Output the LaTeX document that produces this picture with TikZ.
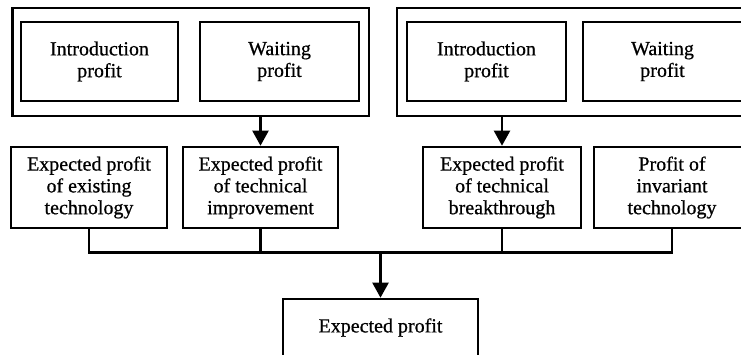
\documentclass[tikz,border=0pt]{standalone}
\usepackage{fontspec}
\setmainfont{Liberation Serif}[FakeBold=0.7]
\usetikzlibrary{arrows.meta}
\begin{document}
\begin{tikzpicture}[x=1pt,y=-1pt,
  txt/.style={font=\fontsize{20}{21.8}\selectfont, align=center},
  box/.style={draw, line width=2.6pt, rectangle, inner sep=0pt, txt},
  group/.style={draw, line width=2.8pt, rectangle, inner sep=0pt},
  link/.style={line width=2.2pt},
  arr/.style={link, -{Triangle[length=15pt,width=16pt]}}]
\useasboundingbox (0,0) rectangle (741,354);

% upper groups
\node[group, minimum width=356.5pt, minimum height=108pt] (gL) at (190.75,62) {};
\node[box, minimum width=157pt, minimum height=79pt] (intro1) at (99.5,61.5) {Introduction\\profit};
\node[box, minimum width=159pt, minimum height=79pt] (wait1) at (279.5,61.5) {Waiting\\profit};

\node[group, minimum width=355pt, minimum height=108pt] (gR) at (574.5,62) {};
\node[box, minimum width=159pt, minimum height=79pt] (intro2) at (486.5,61.5) {Introduction\\profit};
\node[box, minimum width=159pt, minimum height=79pt] (wait2) at (662.5,61.5) {Waiting\\profit};

% middle row
\node[box, minimum width=156pt, minimum height=81pt] (b1) at (89,187.5) {Expected profit\\of existing\\technology};
\node[box, minimum width=155pt, minimum height=81pt] (b2) at (260.5,187.5) {Expected profit\\of technical\\improvement};
\node[box, minimum width=158pt, minimum height=81pt] (b3) at (502,187.5) {Expected profit\\of technical\\breakthrough};
\node[box, minimum width=156pt, minimum height=81pt] (b4) at (672,187.5) {Profit of\\invariant\\technology};

% result
\node[box, minimum width=195pt, minimum height=57pt] (res) at (380.5,327.5) {Expected profit};

\coordinate (hub) at (380.5,252.5);

% connectors
\draw[arr] (b2.north |- gL.south) -- (b2.north);
\draw[arr] (b3.north |- gR.south) -- (b3.north);
\draw[link] (b1.south) |- (b4.south |- hub) -- (b4.south);
\draw[link] (b2.south) -- (b2.south |- hub);
\draw[link] (b3.south) -- (b3.south |- hub);
\draw[arr] (hub) -- (res.north);
\end{tikzpicture}
\end{document}
